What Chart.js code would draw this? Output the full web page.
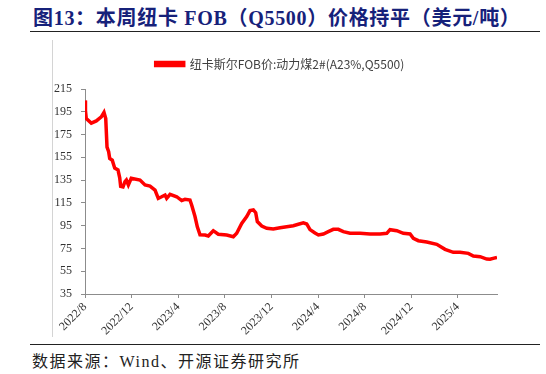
<!DOCTYPE html>
<html>
<head>
<meta charset="utf-8">
<script src="https://cdn.jsdelivr.net/npm/chart.js@4.4.1/dist/chart.umd.min.js"></script>
<style>
  html, body { margin: 0; padding: 0; background: #fff; }
  #page { position: relative; width: 546px; height: 374px; overflow: hidden; }
  #title {
    position: absolute; left: 33px; top: 2px; white-space: nowrap;
    font: bold 20px "Liberation Serif", "Noto Sans CJK SC", serif; letter-spacing: 0.7px;
    color: #16217a;
  }
  .rule { position: absolute; left: 30px; width: 510px; border-top: 1.5px solid #222; }
  #frame { position: absolute; left: 52px; top: 40px; height: 297px; border-left: 1px solid #d4d4d4; }
  #source {
    position: absolute; left: 32px; top: 348px; white-space: nowrap;
    font: 16px "Liberation Serif", "Noto Sans CJK SC", serif; letter-spacing: 1.5px;
    color: #222;
  }
  #box { position: absolute; left: 0; top: 40px; width: 546px; height: 300px; }
</style>
</head>
<body>
<div id="page">
  <div id="title">图13：本周纽卡 FOB（Q5500）价格持平（美元/吨）</div>
  <div class="rule" style="top:31px"></div>
  <div id="frame"></div>
  <div id="box"><canvas id="chart" width="546" height="300"></canvas></div>
  <div class="rule" style="top:344px"></div>
  <div id="source">数据来源：Wind、开源证券研究所</div>
</div>
<script>
// 月份序号：0 = 2022/8
const months = [
  0, 0.04, 0.11, 0.54, 0.97, 1.40, 1.63, 1.78, 1.89, 2.03, 2.12, 2.34, 2.55, 2.83, 2.98,
  3.06, 3.26, 3.43, 3.55, 3.72, 3.97, 4.72, 5.15, 5.58, 6.01, 6.29, 6.58, 6.87, 7.01, 7.30,
  7.87, 8.30, 8.58, 9.01, 9.16, 9.44, 9.64, 9.87, 10.30, 10.58, 11.01, 11.44, 12.16, 12.73,
  13.02, 13.45, 13.88, 14.16, 14.45, 14.65, 14.79, 15.17, 15.60, 16.16, 16.74, 17.31, 17.88,
  18.31, 18.74, 19.03, 19.31, 19.74, 20.03, 20.46, 20.88, 21.31, 21.74, 22.17, 22.75, 23.61,
  24.46, 25.32, 25.90, 26.18, 26.76, 27.32, 27.90, 28.18, 28.61, 29.33, 30.19, 30.90, 31.61,
  32.19, 32.90, 33.33, 33.91, 34.48, 34.76, 35.11, 35.36
];
// 纽卡斯尔FOB价:动力煤2#(A23%,Q5500)，美元/吨
const prices = [
  205, 196, 189, 185, 187, 190.5, 194.5, 189, 164, 160, 154, 152.5, 145.5, 144, 137,
  129.5, 129, 133.6, 135, 130.7, 136.6, 135, 130.7, 129.8, 126.3, 119, 120.4, 121.9, 119, 122.5,
  120.4, 117, 118.1, 117.5, 113, 103, 94, 87, 86.8, 86, 90.6, 87.5, 86.8, 85.3,
  88.3, 97, 103, 108.2, 108.8, 106.4, 98.6, 94.7, 92.7, 92.1, 93.2, 94.1, 95,
  96.2, 97.4, 96.5, 91.5, 88.5, 86.8, 87.7, 89.7, 91.8, 91.8, 89.7, 88.3, 88.3,
  87.7, 87.7, 88.3, 91.5, 90.6, 88.3, 87.7, 83.9, 81.8, 80.7, 78.6, 74.2, 71.6,
  71.6, 70.7, 68.4, 67.8, 65.7, 65.5, 66.5, 67.2
];
const tickLabels = ['2022/8', '2022/12', '2023/4', '2023/8', '2023/12', '2024/4', '2024/8', '2024/12', '2025/4'];
const seriesName = '纽卡斯尔FOB价:动力煤2#(A23%,Q5500)';

const points = months.map((m, i) => ({ x: m, y: prices[i] }));
const axisColor = '#8c8c8c';
const tickFont = { family: '"Liberation Serif", "Times New Roman", serif', size: 12 };

new Chart(document.getElementById('chart'), {
  type: 'line',
  data: {
    datasets: [{
      label: seriesName,
      data: points,
      borderColor: '#ff0000',
      backgroundColor: '#ff0000',
      borderWidth: 3.5,
      pointRadius: 0,
      tension: 0
    }]
  },
  options: {
    responsive: false,
    animation: false,
    devicePixelRatio: 1,
    layout: { padding: { top: 0, left: 52, right: 38, bottom: 0 } },
    plugins: {
      legend: {
        weight: 3000,
        labels: {
          boxWidth: 28,
          boxHeight: 3,
          padding: 18,
          color: '#404040',
          font: { family: '"Noto Sans CJK SC", sans-serif', size: 12 }
        }
      },
      // 空白副标题，只用来拉开图例与绘图区的距离
      subtitle: { display: true, text: '', font: { size: 5, lineHeight: 1 }, padding: { top: 2, bottom: 2 } },
      tooltip: { enabled: false }
    },
    scales: {
      x: {
        type: 'linear',
        min: 0,
        max: 35.36,
        afterFit: (s) => { s.height = 46; },
        border: { color: axisColor },
        grid: { drawOnChartArea: false, tickLength: 4, color: axisColor },
        ticks: {
          stepSize: 4,
          includeBounds: false,
          autoSkip: false,
          minRotation: 45,
          maxRotation: 45,
          padding: 2,
          color: '#333',
          font: tickFont,
          callback: (v) => tickLabels[v / 4]
        }
      },
      y: {
        min: 35,
        max: 215,
        afterFit: (s) => { s.width = 33; },
        border: { color: axisColor },
        grid: { drawOnChartArea: false, tickLength: 4, color: axisColor },
        ticks: { stepSize: 20, padding: 9, color: '#333', font: tickFont }
      },
      // 右侧空轴，只占位，让图例居中位置与原图一致
      yRight: {
        position: 'right',
        afterFit: (s) => { s.width = 11; },
        border: { display: false },
        grid: { display: false },
        ticks: { display: false }
      }
    }
  }
});
</script>
</body>
</html>
